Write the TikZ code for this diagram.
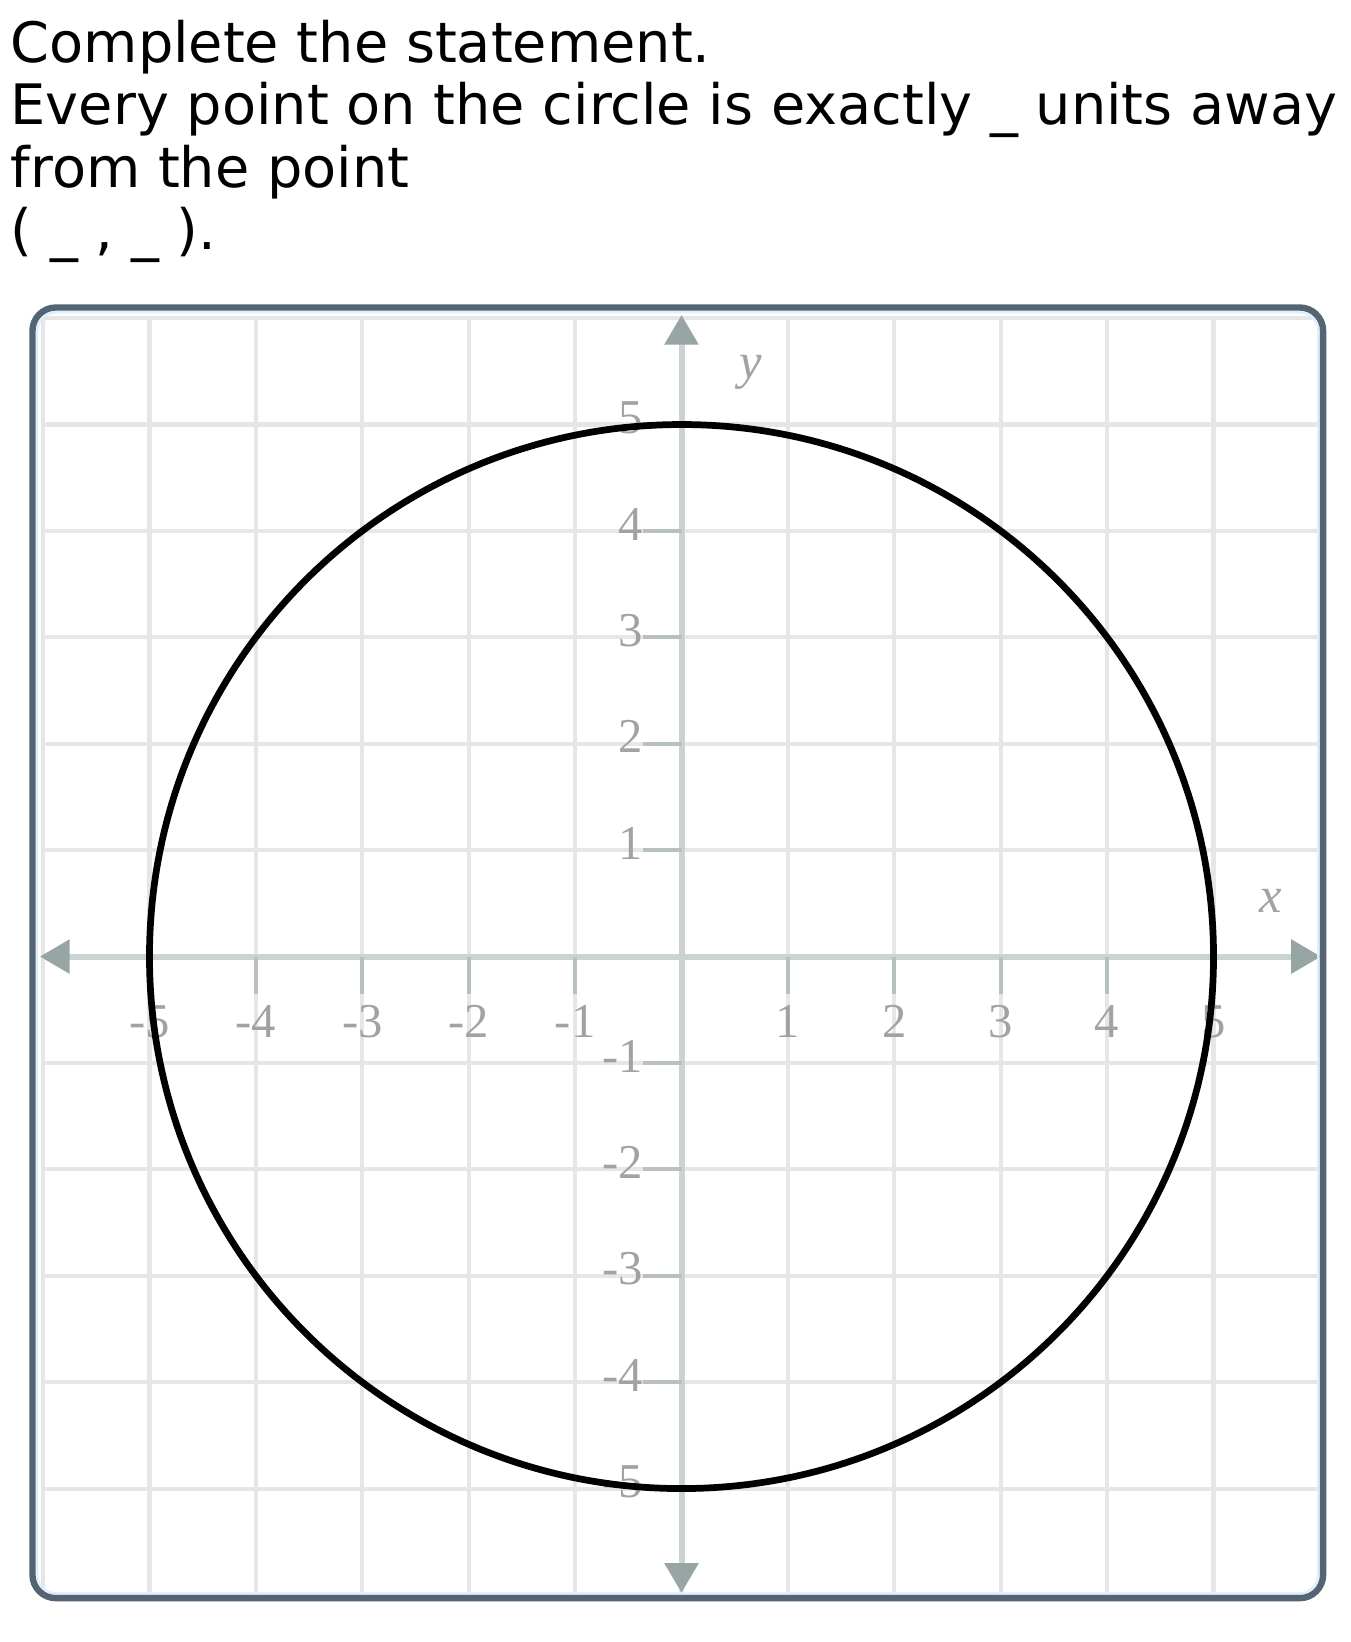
\documentclass[tikz,border=0pt]{standalone}
\usepackage{fontspec}
\setmainfont{DejaVu Sans}
\newfontfamily\lblfont{Liberation Serif}
\usetikzlibrary{arrows.meta}
\definecolor{framec}{RGB}{84,100,116}
\definecolor{gridc}{HTML}{E6E6E6}
\definecolor{axisc}{HTML}{CBD2D2}
\definecolor{tipc}{HTML}{97A5A5}
\definecolor{tickc}{HTML}{B9C0C0}
\definecolor{lblc}{HTML}{A2A2A2}
\definecolor{innerc}{HTML}{DDEEFF}
\tikzset{axtip/.tip={Triangle[length=0.28cm,width=0.31cm,color=tipc]}}
\begin{document}
\begin{tikzpicture}[
  stmt/.style={anchor=base west, inner sep=0pt, font=\fontsize{14.9}{16.6}\selectfont},
  gridline/.style={draw=gridc, line width=1.1pt},
  axisline/.style={draw=axisc, line width=1.6pt, axtip-axtip},
  tickline/.style={draw=tickc, line width=1.1pt},
  numlbl/.style={inner sep=0pt, text=lblc, font=\lblfont\fontsize{13}{13}\selectfont},
  varlbl/.style={inner sep=0pt, text=lblc, font=\lblfont\itshape\fontsize{13.5}{13.5}\selectfont},
  circ/.style={draw=black, line width=1.8pt},
  framebox/.style={draw=framec, line width=1.7pt, rounded corners=0.22cm},
  innerbox/.style={draw=innerc, line width=0.6pt, rounded corners=0.18cm},
]
\useasboundingbox (-6.405,-6.442) rectangle (6.292,8.990);
\fill[white] (-6.405,-6.442) rectangle (6.292,8.990);

% statement text
\node[stmt] (t1) at (-6.311,8.400) {Complete the statement.};
\node[stmt] (t2) at (-6.311,7.816) {Every point on the circle is exactly \_ units away};
\node[stmt] (t3) at (-6.311,7.232) {from the point};
\node[stmt] (t4) at (-6.311,6.648) {( \_ , \_ ).};

% grid
\begin{scope}
  \clip[rounded corners=0.22cm] (-6.10,-6.03) rectangle (6.03,6.10);
  \draw[gridline] (-6,-6) grid (6,6);
\end{scope}

% axes
\coordinate (xl) at (-6.03,0);
\coordinate (xr) at (6.01,0);
\coordinate (yb) at (0,-5.98);
\coordinate (yt) at (0,6.03);
\draw[axisline] (xl) -- (xr);
\draw[axisline] (yb) -- (yt);

% ticks and labels
\foreach \i in {-5,-4,-3,-2,-1,1,2,3,4,5} {
  \draw[tickline] (\i,0) -- (\i,-0.35);
  \draw[tickline] (0,\i) -- (-0.36,\i);
}
\foreach \i/\t in {-5/-5,-4/-4,-3/-3,-2/-2,-1/-1,1/1,2/2,3/3,4/4,5/5} {
  \node[numlbl] (xlab\i) at (\i,-0.61) {\t};
  \node[numlbl, anchor=east] (ylab\i) at (-0.355,\i+0.065) {\t};
}
\node[varlbl] (ylabel) at (0.653,5.493) {y};
\node[varlbl] (xlabel) at (5.536,0.522) {x};

% circle
\draw[circ] (0,0) circle[radius=5];

% frame
\draw[innerbox] (-6.055,-5.985) rectangle (5.985,6.055);
\draw[framebox] (-6.10,-6.03) rectangle (6.03,6.10);
\end{tikzpicture}
\end{document}
